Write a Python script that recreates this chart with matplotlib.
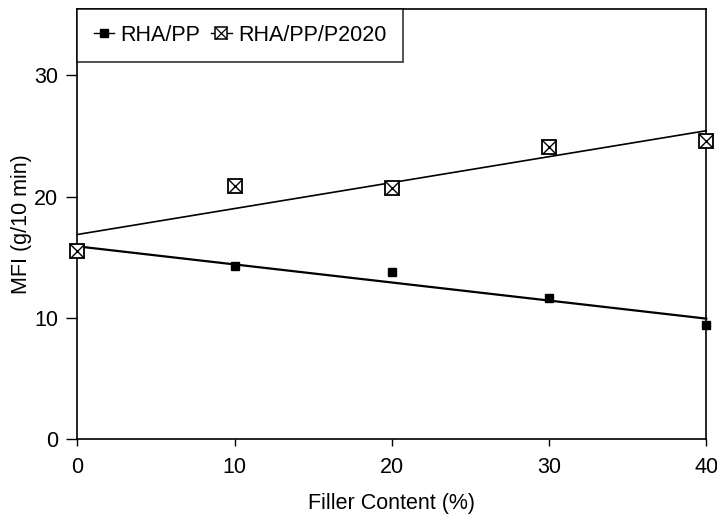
"""MFI vs filler content for RHA/PP composites, with linear fits."""

import numpy as np
import matplotlib

matplotlib.use("Agg")
import matplotlib.pyplot as plt
from matplotlib.lines import Line2D

plt.rcParams["font.family"] = ["Liberation Sans", "DejaVu Sans"]

filler = [0, 10, 20, 30, 40]
mfi_pp = [15.5, 14.3, 13.8, 11.6, 9.4]
mfi_p2020 = [15.5, 20.9, 20.7, 24.1, 24.6]
x_ticks = [0, 10, 20, 30, 40]
y_ticks = [0, 10, 20, 30]

fig = plt.figure(figsize=(7.17, 5.16), dpi=100)
ax = fig.add_axes([0.108, 0.149, 0.877, 0.834])

xs = np.array([0, 40])
k1, b1 = np.polyfit(filler, mfi_pp, 1)
k2, b2 = np.polyfit(filler, mfi_p2020, 1)
ax.plot(xs, k1 * xs + b1, color="black", lw=1.6, clip_on=False)
ax.plot(xs, k2 * xs + b2, color="black", lw=1.2, clip_on=False)

ax.plot(filler, mfi_pp, ls="none", marker="s", ms=6, color="black", clip_on=False, zorder=4)
# boxed cross: open square + x of the same size
ax.plot(filler, mfi_p2020, ls="none", marker="s", ms=10, mfc="white", mec="black",
        mew=1.3, clip_on=False, zorder=5)
ax.plot(filler, mfi_p2020, ls="none", marker="x", ms=10, color="black", mew=1.0,
        clip_on=False, zorder=6)

ax.set_xlim(0, 40)
ax.set_ylim(0, 35.5)
ax.set_xticks(x_ticks)
ax.set_yticks(y_ticks)
ax.tick_params(direction="out", width=1, labelsize=15.5, top=False, right=False)
ax.tick_params(axis="x", length=5, pad=8)
ax.tick_params(axis="y", length=8, pad=6)
for s in ax.spines.values():
    s.set_linewidth(1.2)

ax.set_xlabel("Filler Content (%)", fontsize=15.5, labelpad=11)
ax.set_ylabel("MFI (g/10 min)", fontsize=15.5, labelpad=1)

h1 = Line2D([], [], color="black", lw=1, marker="s", ms=6)
h2 = (Line2D([], [], color="black", lw=1, marker="s", ms=9, mfc="white", mew=1.1),
      Line2D([], [], ls="none", color="black", marker="x", ms=9, mew=0.9))
leg = ax.legend([h1, h2], ["RHA/PP", "RHA/PP/P2020"], loc="upper left", ncol=2,
                fontsize=15.5, frameon=True, fancybox=False, borderaxespad=0,
                handlelength=0.95, handletextpad=0.3, columnspacing=0.5,
                borderpad=0.75)
leg.get_frame().set_edgecolor("black")
leg.get_frame().set_linewidth(1.2)

fig.savefig("out.png", dpi=100)
plt.close(fig)
